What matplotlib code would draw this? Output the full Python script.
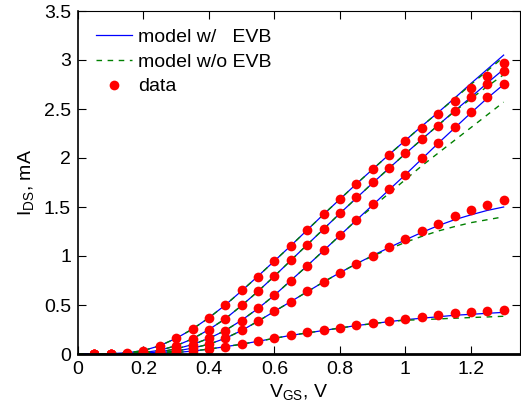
import matplotlib
matplotlib.use("Agg")
import matplotlib.pyplot as plt
from matplotlib.ticker import FuncFormatter

plt.rcParams["font.family"] = ["Liberation Sans", "DejaVu Sans"]
plt.rcParams["mathtext.fontset"] = "custom"
plt.rcParams["mathtext.rm"] = "Liberation Sans"
plt.rcParams["mathtext.it"] = "Liberation Sans"

# Gate voltage grids (V)
vgs_data = [0.05, 0.10, 0.15, 0.20, 0.25, 0.30, 0.35, 0.40, 0.45, 0.50,
            0.55, 0.60, 0.65, 0.70, 0.75, 0.80, 0.85, 0.90, 0.95, 1.00,
            1.05, 1.10, 1.15, 1.20, 1.25, 1.30]
vgs_model = [0.00, 0.05, 0.10, 0.15, 0.20, 0.25, 0.30, 0.35, 0.40, 0.45,
             0.50, 0.55, 0.60, 0.65, 0.70, 0.75, 0.80, 0.85, 0.90, 0.95,
             1.00, 1.05, 1.10, 1.15, 1.20, 1.25, 1.30]

# Measured drain current (mA), one list per bias condition
ids_data = [
    [0.001, 0.003, 0.010, 0.030, 0.080, 0.160, 0.255, 0.370, 0.500, 0.650,
     0.790, 0.950, 1.105, 1.270, 1.425, 1.580, 1.735, 1.885, 2.030, 2.170,
     2.310, 2.450, 2.580, 2.710, 2.840, 2.970],
    [0.001, 0.002, 0.005, 0.013, 0.035, 0.080, 0.150, 0.245, 0.354, 0.500,
     0.640, 0.800, 0.960, 1.115, 1.275, 1.435, 1.600, 1.750, 1.900, 2.050,
     2.190, 2.330, 2.480, 2.620, 2.750, 2.890],
    [0.000, 0.001, 0.003, 0.007, 0.020, 0.050, 0.095, 0.160, 0.235, 0.340,
     0.470, 0.600, 0.750, 0.900, 1.060, 1.210, 1.370, 1.530, 1.680, 1.830,
     2.000, 2.150, 2.320, 2.470, 2.620, 2.755],
    [0.000, 0.001, 0.002, 0.004, 0.012, 0.030, 0.060, 0.100, 0.160, 0.240,
     0.340, 0.440, 0.530, 0.640, 0.735, 0.830, 0.920, 1.000, 1.090, 1.170,
     1.255, 1.330, 1.405, 1.465, 1.520, 1.570],
    [0.000, 0.000, 0.001, 0.002, 0.006, 0.015, 0.030, 0.050, 0.075, 0.100,
     0.130, 0.160, 0.190, 0.220, 0.240, 0.270, 0.300, 0.320, 0.340, 0.360,
     0.380, 0.400, 0.415, 0.430, 0.440, 0.450],
]

# Model with EVB (mA)
ids_evb = [
    [0.000, 0.001, 0.004, 0.012, 0.035, 0.085, 0.160, 0.255, 0.370, 0.500,
     0.645, 0.795, 0.950, 1.105, 1.265, 1.425, 1.580, 1.735, 1.885, 2.035,
     2.180, 2.325, 2.465, 2.610, 2.760, 2.905, 3.050],
    [0.000, 0.001, 0.002, 0.006, 0.015, 0.038, 0.085, 0.155, 0.250, 0.360,
     0.495, 0.640, 0.795, 0.955, 1.115, 1.275, 1.435, 1.590, 1.745, 1.895,
     2.045, 2.190, 2.335, 2.480, 2.620, 2.765, 2.905],
    [0.000, 0.000, 0.001, 0.003, 0.008, 0.022, 0.052, 0.097, 0.160, 0.240,
     0.345, 0.465, 0.600, 0.750, 0.900, 1.055, 1.210, 1.365, 1.520, 1.675,
     1.830, 1.990, 2.150, 2.305, 2.460, 2.610, 2.750],
    [0.000, 0.000, 0.001, 0.002, 0.005, 0.013, 0.030, 0.060, 0.100, 0.160,
     0.240, 0.335, 0.435, 0.535, 0.635, 0.735, 0.830, 0.920, 1.005, 1.085,
     1.165, 1.240, 1.310, 1.370, 1.420, 1.465, 1.500],
    [0.000, 0.000, 0.000, 0.001, 0.002, 0.006, 0.015, 0.030, 0.050, 0.075,
     0.100, 0.130, 0.160, 0.190, 0.215, 0.240, 0.265, 0.290, 0.310, 0.330,
     0.350, 0.365, 0.380, 0.395, 0.405, 0.415, 0.425],
]

# Model without EVB (mA)
ids_no_evb = [
    [0.000, 0.001, 0.004, 0.012, 0.035, 0.085, 0.160, 0.255, 0.370, 0.500,
     0.645, 0.795, 0.950, 1.105, 1.265, 1.425, 1.580, 1.735, 1.885, 2.035,
     2.180, 2.325, 2.465, 2.605, 2.750, 2.890, 3.030],
    [0.000, 0.001, 0.002, 0.006, 0.015, 0.038, 0.085, 0.155, 0.250, 0.360,
     0.495, 0.640, 0.795, 0.955, 1.115, 1.275, 1.435, 1.590, 1.745, 1.895,
     2.045, 2.190, 2.335, 2.475, 2.605, 2.730, 2.850],
    [0.000, 0.000, 0.001, 0.003, 0.008, 0.022, 0.052, 0.097, 0.160, 0.240,
     0.345, 0.465, 0.600, 0.750, 0.900, 1.055, 1.210, 1.365, 1.500, 1.640,
     1.780, 1.920, 2.050, 2.180, 2.310, 2.440, 2.570],
    [0.000, 0.000, 0.001, 0.002, 0.005, 0.013, 0.030, 0.060, 0.100, 0.160,
     0.240, 0.335, 0.435, 0.535, 0.635, 0.735, 0.830, 0.920, 1.000, 1.070,
     1.140, 1.200, 1.255, 1.300, 1.340, 1.370, 1.400],
    [0.000, 0.000, 0.000, 0.001, 0.002, 0.006, 0.015, 0.030, 0.050, 0.075,
     0.100, 0.130, 0.160, 0.190, 0.215, 0.240, 0.265, 0.290, 0.310, 0.330,
     0.345, 0.350, 0.358, 0.365, 0.372, 0.378, 0.385],
]

fig = plt.figure(figsize=(5.21, 4.19), dpi=100)
ax = fig.add_axes([78 / 521, 65 / 419, 442 / 521, 343 / 419])

for i, ids in enumerate(ids_evb):
    ax.plot(vgs_model, ids, color="#0000ff", lw=0.9,
            label="model w/   EVB" if i == 0 else None)
for i, ids in enumerate(ids_no_evb):
    ax.plot(vgs_model, ids, color="#008000", lw=1.0, ls=(0, (4, 4)),
            label="model w/o EVB" if i == 0 else None)
for i, ids in enumerate(ids_data):
    ax.plot(vgs_data, ids, "o", color="#ff0000", ms=7, mec="none",
            label="data" if i == 0 else None)

ax.set_xlim(0, 1.35)
ax.set_ylim(0, 3.5)
ax.set_xticks([0, 0.2, 0.4, 0.6, 0.8, 1.0, 1.2])
ax.set_yticks([0, 0.5, 1, 1.5, 2, 2.5, 3, 3.5])
fmt = FuncFormatter(lambda v, p: "%g" % v)
ax.xaxis.set_major_formatter(fmt)
ax.yaxis.set_major_formatter(fmt)
ax.tick_params(direction="in", length=5.5, width=0.8, labelsize=14,
               top=True, right=True, pad=5)
ax.spines["bottom"].set_linewidth(2.0)
ax.spines["left"].set_linewidth(1.2)
ax.spines["top"].set_linewidth(0.8)
ax.spines["right"].set_linewidth(0.8)

ax.set_xlabel(r"$\mathrm{V_{GS}}$, V", fontsize=14, labelpad=3)
ax.set_ylabel(r"$\mathrm{I_{DS}}$, mA", fontsize=14, labelpad=6)

ax.legend(loc="upper left", frameon=False, fontsize=14, handlelength=1.9,
          handletextpad=0.3, labelspacing=0.36, borderaxespad=0.6,
          borderpad=0.3, numpoints=1)

fig.savefig("out.png", dpi=100)
